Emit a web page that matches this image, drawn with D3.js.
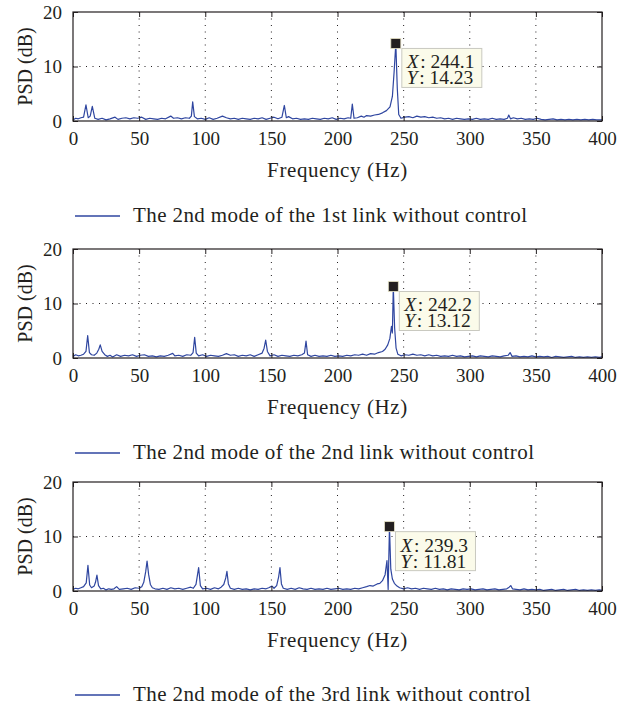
<!DOCTYPE html>
<html>
<head>
<meta charset="utf-8">
<script src="https://cdn.jsdelivr.net/npm/d3@7"></script>
<style>
  body { margin: 0; background: #fff; }
  text { font-family: "Liberation Serif", "Times New Roman", serif; fill: #231f20; }
</style>
</head>
<body>
<svg id="chart" width="617" height="710"></svg>
<script>
// ---- data: [frequency (Hz), PSD (dB)] ----
const link1Psd = [
  [0,0.2],[2,0.5],[4,0.4],[6,0.6],[8,0.7],[9.8,2.96],[11.5,0.6],[13,0.9],[14.6,2.7],[16.5,0.5],
  [19,0.3],[22,0.5],[25,0.2],[28,0.4],[31.8,0.7],[34,0.3],[37,0.5],[40,0.6],[43,0.4],[46,0.6],
  [49,0.5],[52,0.7],[55,0.3],[58,0.5],[61,0.4],[64,0.3],[67,0.5],[70,0.4],[73.9,0.9],[76,0.5],
  [79,0.6],[82,0.4],[85,0.6],[88,0.5],[89.5,0.9],[90.5,3.5],[91.8,0.8],[94,0.4],[97,0.5],[100,0.3],
  [103,0.6],[106,0.3],[109,0.5],[113,0.9],[116,0.6],[119,0.4],[122,0.5],[125,0.3],[128,0.5],[131,0.4],
  [134,0.3],[137,0.5],[140,0.4],[143,0.6],[146,0.3],[149,0.5],[152,0.7],[155,0.4],[158,0.7],[159.8,2.85],
  [161.3,0.6],[163,0.8],[166,0.4],[169,0.5],[172,0.3],[175,0.4],[178,0.3],[181,0.5],[184,0.4],[187,0.3],
  [190,0.5],[193,0.4],[196,0.6],[199,0.3],[202,0.5],[205,0.4],[208,0.6],[210,0.5],[211.2,3.1],[212.5,0.5],
  [215,0.6],[218,0.9],[220,0.7],[222,1.0],[225,0.9],[228,1.1],[231,1.2],[234,1.5],[237,1.9],[239.7,2.6],
  [241.5,4.5],[242.8,9],[244.1,14.23],[245.2,6],[246.3,1.2],[248,0.5],[251,0.7],[254,0.8],[257,0.6],[260,0.9],
  [263,0.7],[266,0.8],[269,0.6],[272,0.7],[275,0.5],[278,0.6],[281,0.4],[284,0.5],[287,0.3],[290,0.5],
  [293,0.4],[296,0.3],[299,0.4],[302,0.3],[305,0.5],[308,0.3],[311,0.4],[314,0.3],[317,0.5],[320,0.3],
  [323,0.4],[326,0.3],[328.5,0.5],[329.5,1.1],[330.8,0.4],[333,0.6],[336,0.4],[339,0.5],[342,0.3],[345,0.4],
  [348,0.3],[351,0.5],[354,0.3],[357,0.2],[360,0.3],[363,0.4],[366,0.2],[369,0.3],[372,0.2],[375,0.3],
  [378,0.2],[381,0.3],[384,0.2],[387,0.3],[390,0.2],[393,0.3],[396,0.2],[400,0.2]
];

const link2Psd = [
  [0,0.3],[2,0.6],[4,0.4],[6,0.5],[8,0.7],[9.8,1.2],[11.1,4.1],[12.4,1.0],[14,0.6],[16,0.5],
  [18,0.9],[19.5,1.6],[20.6,2.4],[22,1.2],[24,0.6],[26,0.3],[28,0.5],[30,0.2],[33,0.6],[36,0.3],
  [39,0.5],[42,0.4],[45,0.6],[48,0.3],[51,0.5],[54,0.6],[57,0.3],[60,0.4],[63,0.2],[66,0.4],
  [69,0.3],[72,0.5],[75.4,0.85],[77,0.4],[80,0.5],[83,0.3],[86,0.6],[89,0.5],[90.8,1.0],[92,3.8],
  [93.2,0.9],[95,0.4],[98,0.6],[101,0.3],[104,0.5],[107,0.4],[110,0.3],[113,0.5],[116,0.8],[119,0.5],
  [122,0.6],[125,0.3],[128,0.5],[131,0.4],[134,0.6],[137,0.3],[140,0.6],[143,0.9],[144.5,1.8],[145.7,3.3],
  [147,1.2],[149,0.4],[152,0.6],[155,0.3],[158,0.5],[161,0.4],[164,0.3],[167,0.5],[170,0.4],[173,0.6],
  [175,0.9],[176.2,3.1],[177.4,0.6],[180,0.3],[183,0.5],[186,0.3],[189,0.4],[192,0.3],[195,0.5],[198,0.3],
  [201,0.4],[204,0.3],[207,0.5],[210,0.4],[213,0.6],[216,0.5],[219,0.7],[222,0.5],[225,0.8],[228,0.7],
  [231,1.0],[234,1.2],[236,1.6],[238,2.4],[239.6,3.6],[240.8,5.8],[241.5,4.6],[242.2,13.12],[243.2,5.5],[244.3,1.8],
  [245.6,0.7],[248,0.4],[251,0.6],[254,0.5],[257,0.7],[260,0.5],[263,0.6],[266,0.4],[269,0.6],[272,0.4],
  [275,0.5],[278,0.3],[281,0.4],[284,0.3],[287,0.5],[290,0.3],[293,0.4],[296,0.2],[299,0.3],[302,0.4],
  [305,0.2],[308,0.4],[311,0.3],[314,0.2],[317,0.4],[320,0.3],[323,0.2],[326,0.4],[329,0.5],[330.5,1.0],
  [332,0.3],[335,0.4],[338,0.2],[341,0.3],[344,0.2],[347,0.4],[350,0.2],[353,0.3],[356,0.2],[359,0.3],
  [362,0.1],[365,0.3],[368,0.2],[371,0.1],[374,0.2],[377,0.3],[380,0.1],[383,0.2],[386,0.1],[389,0.2],
  [392,0.1],[395,0.2],[398,0.1],[400,0.2]
];

const link3Psd = [
  [0,0.3],[2,0.5],[4,0.4],[6,0.6],[8,0.8],[10,1.5],[11.3,4.7],[12.6,1.1],[14,0.6],[16,0.9],
  [17,1.6],[18.1,2.9],[19.3,1.0],[21,0.4],[23,0.5],[25,0.2],[27,0.4],[29,0.3],[31,0.4],[33,0.8],
  [35,0.3],[38,0.4],[41,0.5],[44,0.3],[47,0.6],[50,0.5],[52,0.8],[53.5,1.6],[55,3.6],[56,5.5],
  [57.2,3.0],[58.5,1.2],[60,0.6],[62,0.4],[65,0.3],[68,0.5],[71,0.3],[74,0.6],[77,0.4],[80,0.5],
  [83,0.3],[86,0.5],[89,0.7],[91,0.5],[93,1.2],[95,4.3],[96.3,1.0],[98,0.4],[101,0.5],[104,0.3],
  [107,0.6],[110,0.4],[112,0.7],[114,1.2],[115.5,2.4],[116.4,3.6],[117.5,1.3],[119,0.5],[122,0.3],[125,0.5],
  [128,0.3],[131,0.4],[134,0.2],[137,0.4],[140,0.3],[143,0.5],[146,0.4],[148,0.6],[150.5,0.9],[152,0.5],
  [154,1.0],[155.5,2.6],[156.5,4.3],[157.6,1.3],[159,0.5],[162,0.3],[165,0.5],[168,0.3],[171,0.6],[174,0.4],
  [177,0.3],[180,0.5],[183,0.3],[186,0.4],[189,0.3],[192,0.5],[195,0.3],[198,0.4],[201,0.5],[204,0.3],
  [207,0.4],[210,0.3],[213,0.5],[216,0.4],[219,0.6],[222,0.8],[224.6,1.0],[227,0.9],[230,1.3],[232,1.4],
  [234,1.9],[236,3.0],[237.4,5.6],[238.3,0.3],[239.3,11.81],[240.3,4.0],[241.5,2.2],[243,1.4],[245,0.9],[247,0.6],
  [250,0.4],[253,0.6],[256,0.4],[259,0.5],[262,0.3],[265,0.5],[268,0.4],[271,0.3],[274,0.5],[277,0.3],
  [280,0.4],[283,0.2],[286,0.4],[289,0.3],[292,0.2],[295,0.4],[298,0.3],[301,0.4],[304,0.2],[307,0.3],
  [310,0.4],[313,0.2],[316,0.3],[319,0.4],[322,0.2],[325,0.3],[328,0.4],[329.8,0.7],[331,1.0],[332.3,0.4],
  [335,0.3],[338,0.2],[341,0.4],[344,0.2],[347,0.3],[350,0.2],[353,0.3],[356,0.1],[359,0.2],[362,0.3],
  [365,0.1],[368,0.2],[371,0.3],[374,0.1],[377,0.2],[380,0.3],[383,0.1],[386,0.2],[389,0.1],[392,0.2],
  [395,0.1],[398,0.2],[400,0.1]
];

// data tips shown on each panel: [X, Y]
const peakTips = [[244.1, 14.23], [242.2, 13.12], [239.3, 11.81]];

const legendLabels = [
  'The 2nd mode of the 1st link without control',
  'The 2nd mode of the 2nd link without control',
  'The 2nd mode of the 3rd link without control'
];

const freqTicks = [0, 50, 100, 150, 200, 250, 300, 350, 400];
const psdTicks = [0, 10, 20];

// ---- layout ----
const plotLeft = 73, plotRight = 602, plotH = 109;
const panelTops = [12, 249, 482];
const legendOffsets = [95, 95, 104];
const lineColor = '#2f46a0';
const ink = '#231f20';

const svg = d3.select('#chart');
const x = d3.scaleLinear().domain([0, 400]).range([plotLeft, plotRight]);

const spectra = [link1Psd, link2Psd, link3Psd];
spectra.forEach((data, i) => drawPanel(data, peakTips[i], legendLabels[i], panelTops[i], legendOffsets[i]));

function styleAxis(g) {
  g.select('.domain').remove();
  g.selectAll('.tick line').attr('stroke', ink);
  g.selectAll('.tick text')
    .attr('font-family', '"Liberation Serif", "Times New Roman", serif')
    .attr('font-size', 19)
    .attr('fill', ink);
}

function drawPanel(data, tip, label, top, legendDy) {
  const bottom = top + plotH;
  const y = d3.scaleLinear().domain([0, 20]).range([bottom, top]);
  const g = svg.append('g');

  // dotted grid
  g.selectAll('.vgrid')
    .data(freqTicks.slice(1, -1))
    .enter()
    .append('line')
    .attr('x1', d => x(d)).attr('x2', d => x(d))
    .attr('y1', top).attr('y2', bottom)
    .attr('stroke', ink).attr('stroke-width', 1)
    .attr('stroke-dasharray', '1,5.5');

  g.selectAll('.hgrid')
    .data(psdTicks.slice(1, -1))
    .enter()
    .append('line')
    .attr('x1', plotLeft).attr('x2', plotRight)
    .attr('y1', d => y(d)).attr('y2', d => y(d))
    .attr('stroke', ink).attr('stroke-width', 1)
    .attr('stroke-dasharray', '1,5.5');

  // the spectrum
  const line = d3.line().x(d => x(d[0])).y(d => y(d[1]));
  g.append('path')
    .datum(data)
    .attr('d', line)
    .attr('fill', 'none')
    .attr('stroke', lineColor)
    .attr('stroke-width', 1.2)
    .attr('stroke-linejoin', 'round');

  // axes, ticks pointing in
  g.append('g')
    .attr('transform', `translate(0,${bottom})`)
    .call(d3.axisBottom(x).tickValues(freqTicks).tickSizeInner(-5).tickSizeOuter(0).tickPadding(11))
    .call(styleAxis);
  g.append('g')
    .attr('transform', `translate(0,${top})`)
    .call(d3.axisTop(x).tickValues(freqTicks).tickFormat('').tickSizeInner(-5).tickSizeOuter(0))
    .call(styleAxis);
  g.append('g')
    .attr('transform', `translate(${plotLeft},0)`)
    .call(d3.axisLeft(y).tickValues(psdTicks).tickSizeInner(-5).tickSizeOuter(0).tickPadding(11))
    .call(styleAxis);
  g.append('g')
    .attr('transform', `translate(${plotRight},0)`)
    .call(d3.axisRight(y).tickValues(psdTicks).tickFormat('').tickSizeInner(-5).tickSizeOuter(0))
    .call(styleAxis);

  // frame
  g.append('rect')
    .attr('x', plotLeft).attr('y', top)
    .attr('width', plotRight - plotLeft).attr('height', plotH)
    .attr('fill', 'none').attr('stroke', ink).attr('stroke-width', 1.2);

  // axis titles
  g.append('text')
    .attr('x', (plotLeft + plotRight) / 2)
    .attr('y', bottom + 56)
    .attr('text-anchor', 'middle')
    .attr('font-size', 21)
    .attr('letter-spacing', 0.6)
    .text('Frequency (Hz)');

  g.append('text')
    .attr('transform', `translate(32,${(top + bottom) / 2}) rotate(-90)`)
    .attr('text-anchor', 'middle')
    .attr('font-size', 20)
    .text('PSD (dB)');

  // data tip: box, two lines of text, black marker on the peak
  const px = x(tip[0]), py = y(tip[1]);
  const box = g.append('g').attr('transform', `translate(${px + 6},${py + 5})`);
  box.append('rect')
    .attr('width', 80).attr('height', 39)
    .attr('fill', '#fbfbea').attr('stroke', '#c9c9c0').attr('stroke-width', 1);
  box.append('text').attr('x', 5).attr('y', 20).attr('font-size', 19.5)
    .html(`<tspan font-style="italic">X</tspan><tspan dx="1.5">: ${tip[0].toFixed(1)}</tspan>`);
  box.append('text').attr('x', 5).attr('y', 36).attr('font-size', 19.5)
    .html(`<tspan font-style="italic">Y</tspan><tspan dx="1.5">: ${tip[1].toFixed(2)}</tspan>`);

  g.append('rect')
    .attr('x', px - 5).attr('y', py - 5)
    .attr('width', 10).attr('height', 10)
    .attr('fill', ink).attr('stroke', '#e8e4c8').attr('stroke-width', 0.8);

  // legend
  const ly = bottom + legendDy;
  g.append('line')
    .attr('x1', 75).attr('x2', 120)
    .attr('y1', ly).attr('y2', ly)
    .attr('stroke', lineColor).attr('stroke-width', 1.5);
  g.append('text')
    .attr('x', 133).attr('y', ly + 6)
    .attr('font-size', 21)
    .attr('letter-spacing', 0.4)
    .text(label);
}
</script>
</body>
</html>
